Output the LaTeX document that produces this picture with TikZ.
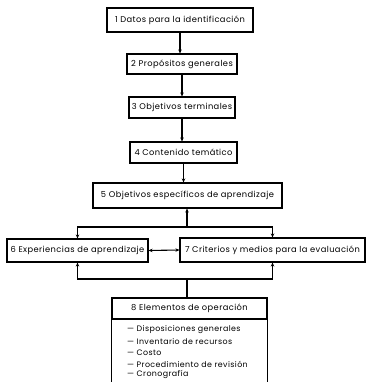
\documentclass[tikz,border=0pt]{standalone}
\usepackage{fontspec}
\setmainfont{Poppins}[LetterSpace=5]
\usetikzlibrary{arrows.meta}
\begin{document}
\begin{tikzpicture}[x=1pt,y=-1pt,
  every node/.style={font=\fontsize{8.3}{10}\selectfont},
  box/.style={draw, line width=1.1pt, inner sep=0pt, anchor=center},
  item/.style={anchor=west, inner sep=0pt, font=\fontsize{7.9}{9}\selectfont},
  conn/.style={line width=1.1pt},
  arr/.style={conn, -{Stealth[length=4pt,width=3.5pt]}},
  arrb/.style={conn, {Stealth[length=4pt,width=3.5pt]}-{Stealth[length=4pt,width=3.5pt]}}]
\useasboundingbox (0,0) rectangle (366,382);
\node[box, minimum width=146pt, minimum height=24pt] (b1) at (180,20) {1 Datos para la identificación};
\node[box, minimum width=110pt, minimum height=20pt] (b2) at (182,64) {2 Propósitos generales};
\node[box, minimum width=106pt, minimum height=21pt] (b3) at (182,107.5) {3 Objetivos terminales};
\node[box, minimum width=107pt, minimum height=21pt] (b4) at (183.5,152.5) {4 Contenido temático};
\node[box, minimum width=189pt, minimum height=25pt] (b5) at (187.5,195.5) {5 Objetivos específicos de aprendizaje};
\node[box, minimum width=141pt, minimum height=23pt] (b6) at (77.5,250.5) {6 Experiencias de aprendizaje};
\node[box, minimum width=185pt, minimum height=24pt] (b7) at (272.5,250) {7 Criterios y medios para la evaluación};
\node[box, minimum width=155pt, minimum height=21pt] (b8) at (189.5,308.5) {8 Elementos de operación};
\draw[conn] (b8.south west) -- ++(0,64);
\draw[conn] (b8.south east) -- ++(0,64);
\node[item] (i1) at (127,330) {— Disposiciones generales};
\node[item] (i2) at (127,341.5) {— Inventario de recursos};
\node[item] (i3) at (127,353) {— Costo};
\node[item] (i4) at (127,364) {— Procedimiento de revisión};
\node[item] (i5) at (127,374.5) {— Cronografía};
\draw[arr] (b1.south) -- (b1.south |- b2.north);
\draw[arr] (b2.south) -- (b2.south |- b3.north);
\draw[arr] (b3.south) -- (b3.south |- b4.north);
\draw[arr] (b4.south) -- (b4.south |- b5.north);
\coordinate (jt) at (187,227);
\coordinate (jb) at (187,279);
\draw[arr] (jt) -- (jt |- b5.south);
\draw[arr] (jt) -| (b6.north);
\draw[arr] (jt) -| (b7.north);
\draw[arr] (jb) -| (b6.south);
\draw[arr] (jb) -| (b7.south);
\draw[conn] (jb) -- (jb |- b8.north);
\draw[arrb] (b6.east) -- (b7.west);
\end{tikzpicture}
\end{document}
